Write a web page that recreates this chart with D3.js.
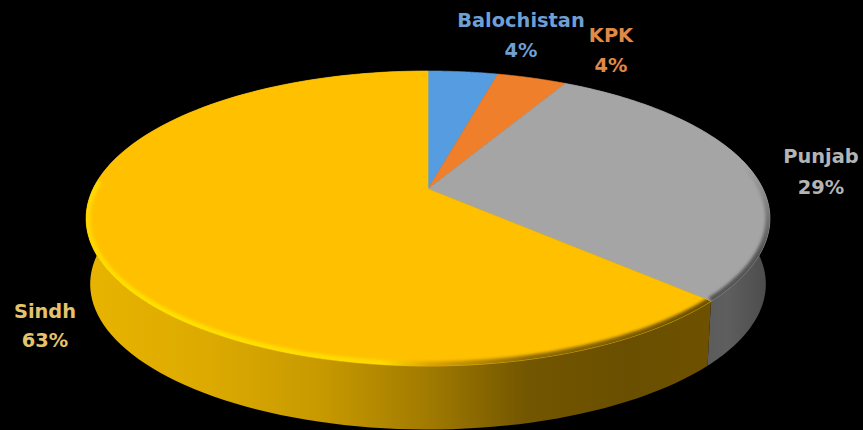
<!DOCTYPE html>
<html>
<head>
<meta charset="utf-8">
<script src="https://cdn.jsdelivr.net/npm/d3@7"></script>
<style>
html,body{margin:0;padding:0;background:#000;overflow:hidden}
svg{display:block}
text{font-family:"DejaVu Sans",sans-serif;font-weight:700;font-size:19.4px;text-anchor:middle}
</style>
</head>
<body>
<svg id="chart" width="863" height="430"></svg>
<script>
// Share of total by province, clockwise from twelve o'clock
const provinces = ["Balochistan", "KPK", "Punjab", "Sindh"];
const shares = [4, 4, 29, 63];

const topColors = ["#559ce0", "#ef7f2b", "#a5a5a5", "#ffc000"];
const labelColors = ["#6f9fd3", "#e08a48", "#b4b4b4", "#e3c36b"];
const labelAnchors = [[521, 27, 57], [611, 42, 72], [821, 163, 194], [45, 318, 347]];

const width = 863, height = 430;
const svg = d3.select("#chart");
svg.append("rect").attr("width", width).attr("height", height).attr("fill", "#000");

// Perspective projection of a disc tilted away from the viewer
const persp = 0.2;
function project(theta, o) {
  const d = 1 + persp * Math.cos(theta);
  return [o.cx + o.a * Math.sin(theta) / d, o.cy - o.b * Math.cos(theta) / d];
}
const topFace = {cx: 428, cy: 189, a: 335, b: 141.6};
const baseFace = {cx: 428, cy: 255, a: 331, b: 139.6};

const pie = d3.pie().sort(null).value(d => d)(shares);
const line = d3.line();
const samples = (a0, a1) => d3.range(0, 121).map(i => a0 + (a1 - a0) * i / 120);
const rimPoints = (a0, a1, face) => samples(a0, a1).map(t => project(t, face));

const defs = svg.append("defs");
function gradient(id, axis, p1, p2, stops) {
  const g = defs.append("linearGradient").attr("id", id)
    .attr("gradientUnits", "userSpaceOnUse")
    .attr("x1", axis === "x" ? p1 : 0).attr("x2", axis === "x" ? p2 : 0)
    .attr("y1", axis === "y" ? p1 : 0).attr("y2", axis === "y" ? p2 : 0);
  stops.forEach(([o, c]) => g.append("stop").attr("offset", o).attr("stop-color", c));
}
gradient("sideSindh", "x", 85, 700, [
  [0, "#e8b400"], [0.2, "#dcaa00"], [0.38, "#c89a00"], [0.55, "#a37c00"],
  [0.72, "#725600"], [0.88, "#6a4f00"], [1, "#6d5100"]]);
gradient("sidePunjab", "x", 697, 765, [[0, "#5b5b5b"], [0.45, "#5e5e5e"], [1, "#4d4d4d"]]);
gradient("rimSindh", "x", 85, 700, [
  [0, "#ffd800"], [0.1, "#ffe000"], [0.48, "#ffdc00"], [0.56, "#dca400"], [0.72, "#8f6c00"], [1, "#6d5100"]]);
gradient("rimPunjab", "y", 165, 250, [[0, "#a5a5a5"], [1, "#555555"]]);

const soft = defs.append("filter").attr("id", "soft")
  .attr("x", "-5%").attr("y", "-5%").attr("width", "110%").attr("height", "110%");
soft.append("feGaussianBlur").attr("stdDeviation", 1.8);

// Outer wall of the two front slices
const sideFill = {Punjab: "url(#sidePunjab)", Sindh: "url(#sideSindh)"};
pie.forEach((s, i) => {
  const fill = sideFill[provinces[i]];
  if (!fill) return;
  const pts = rimPoints(s.startAngle, s.endAngle, topFace)
    .concat(rimPoints(s.startAngle, s.endAngle, baseFace).reverse());
  svg.append("path").attr("d", line(pts) + "Z").attr("fill", fill);
});

// Top face, each slice stroked in its own colour to close the seams
const faces = svg.append("g");
pie.forEach((s, i) => {
  const pts = [[topFace.cx, topFace.cy]].concat(rimPoints(s.startAngle, s.endAngle, topFace));
  faces.append("path").attr("d", line(pts) + "Z")
    .attr("fill", topColors[i]).attr("stroke", topColors[i]).attr("stroke-width", 0.7);
  defs.append("clipPath").attr("id", "clip" + i)
    .append("path").attr("d", line(pts) + "Z");
});

// Soft bevel along the lit front edge
const bevel = [
  {slice: 2, from: 0.2, to: 0.37, color: "url(#rimPunjab)", w: 9},
  {slice: 3, from: 0.37, to: 0.76, color: "url(#rimSindh)", w: 9}
];
bevel.forEach(b => {
  svg.append("g").attr("clip-path", `url(#clip${b.slice})`)
    .append("path")
    .attr("d", line(rimPoints(b.from * 2 * Math.PI, b.to * 2 * Math.PI, topFace)))
    .attr("fill", "none").attr("stroke", b.color).attr("stroke-width", b.w)
    .attr("filter", "url(#soft)");
});

// Two-line category and percentage labels
provinces.forEach((name, i) => {
  const [x, y1, y2] = labelAnchors[i];
  const t = svg.append("text").attr("fill", labelColors[i]);
  t.append("tspan").attr("x", x).attr("y", y1).text(name);
  t.append("tspan").attr("x", x).attr("y", y2).text(shares[i] + "%");
});
</script>
</body>
</html>
